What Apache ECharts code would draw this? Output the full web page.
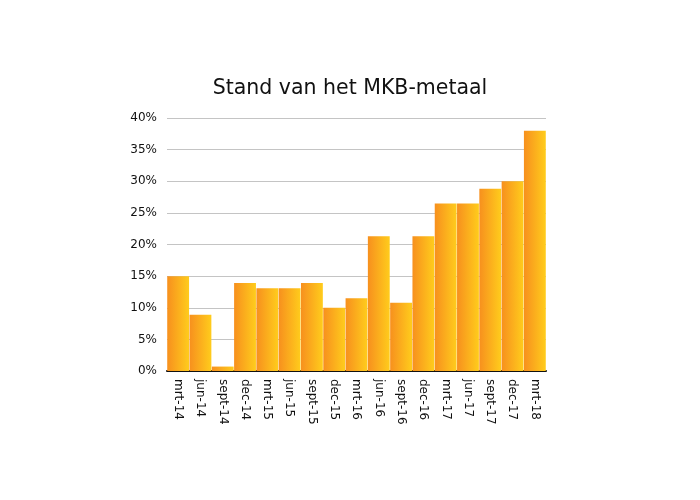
<!DOCTYPE html>
<html>
<head>
<meta charset="utf-8">
<script src="https://cdn.jsdelivr.net/npm/echarts@6/dist/echarts.min.js"></script>
<style>html,body{margin:0;padding:0;background:#fff;}#c{width:700px;height:500px;}</style>
</head>
<body>
<div id="c"></div>
<script>
const categories = ['mrt-14','jun-14','sept-14','dec-14','mrt-15','jun-15','sept-15','dec-15','mrt-16','jun-16','sept-16','dec-16','mrt-17','jun-17','sept-17','dec-17','mrt-18'];
const values = [15, 8.9, 0.7, 13.9, 13.1, 13.1, 13.9, 10, 11.5, 21.3, 10.8, 21.3, 26.5, 26.5, 28.8, 30, 38];
const yTicks = [0, 5, 10, 15, 20, 25, 30, 35, 40];

const chart = echarts.init(document.getElementById('c'), null, {renderer: 'canvas'});
chart.setOption({
  backgroundColor: '#ffffff',
  animation: false,
  title: {
    text: 'Stand van het MKB-metaal',
    left: 'center',
    top: 73,
    textStyle: {fontFamily: 'DejaVu Sans', fontSize: 20.5, fontWeight: 'normal', color: '#111'}
  },
  grid: {left: 167, right: 154, top: 118, bottom: 129},
  xAxis: {
    type: 'category',
    data: categories,
    axisLine: {lineStyle: {color: '#111', width: 2}},
    axisTick: {show: false},
    axisLabel: {rotate: -90, fontFamily: 'DejaVu Sans', fontSize: 12, color: '#111', margin: 8, interval: 0}
  },
  yAxis: {
    type: 'value',
    min: yTicks[0],
    max: yTicks[yTicks.length - 1],
    interval: 5,
    axisLine: {show: false},
    axisTick: {show: false},
    splitLine: {lineStyle: {color: '#c4c4c4', width: 1}},
    axisLabel: {formatter: '{value}%', fontFamily: 'DejaVu Sans', fontSize: 12, color: '#111', margin: 10}
  },
  series: [{
    type: 'bar',
    data: values,
    barCategoryGap: '2%',
    itemStyle: {
      color: new echarts.graphic.LinearGradient(0, 0, 1, 0, [
        {offset: 0, color: '#f7901e'},
        {offset: 1, color: '#ffcc1c'}
      ])
    }
  }]
});
</script>
</body>
</html>
